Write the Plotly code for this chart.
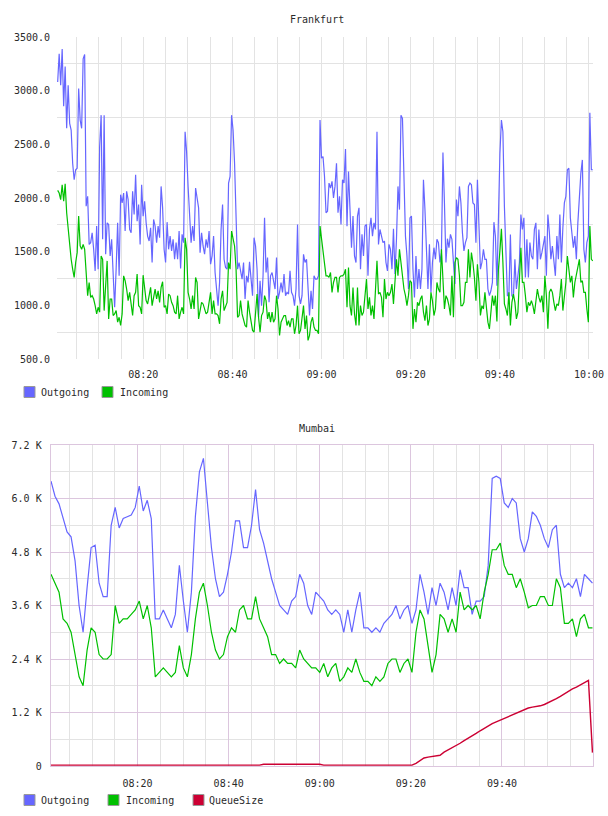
import plotly.graph_objects as go
import pandas as pd

# ---------------- data : Frankfurt ----------------
fra_start = "2024-01-01 08:00:47"
fra_end = "2024-01-01 10:00:52"

fra_outgoing = [
    3081,3343,3050,3389,2855,3226,2649,3050,2695,2633,
    2324,2170,2263,2278,3019,2726,2649,3297,3337,1923,
    2016,1568,1584,1676,1522,1321,1738,1337,2479,2772,
    1615,2772,1476,1769,1753,1460,1615,1213,982,1337,
    1769,1275,2031,1954,2046,1692,2062,1985,1707,1676,
    2062,1846,2216,1784,1939,1568,2124,1831,1970,1769,
    1645,1599,1723,1399,1800,1738,1584,1738,1630,2108,
    1908,1522,1399,1775,1522,1645,1507,1615,1429,1584,
    1429,1692,1343,1661,1584,2618,2432,2108,1831,1584,
    1738,1599,2093,1985,1908,1491,1676,1553,1476,1615,
    1537,1692,1383,1460,1645,1306,1183,997,1213,1707,
    1939,1429,1352,1337,2139,2201,2772,2633,2324,1923,
    1337,1399,1337,1244,1399,1059,1275,1213,1405,1213,
    1090,1630,1553,1337,889,1229,997,1275,1815,1306,
    1445,1028,1275,1306,1213,1152,1445,1059,1121,1213,
    1121,1291,1090,1121,1105,1321,1121,1090,997,1152,
    1753,1090,1013,1090,1476,1399,1429,1213,905,1136,
    966,1275,1244,1244,1275,2726,2371,2386,2201,1862,
    1877,2139,2093,2155,2000,2108,2324,1862,2016,1753,
    2170,2139,2457,1738,2247,1892,1537,1831,1460,1399,
    1831,1908,1337,1661,1460,1738,1753,1275,1707,1815,
    1645,1769,1707,2618,1568,1707,1645,1584,1599,1399,
    1321,1568,1522,1337,1713,1291,1615,2108,1892,2772,
    2741,2108,1645,1460,1152,1815,1831,1337,1074,1460,
    1152,1337,1152,1337,2170,1892,1460,1152,1568,1121,
    1399,1537,1429,1615,1584,1399,1491,2423,1954,1399,
    1621,1537,1661,1615,1399,1198,1985,1831,2108,1954,
    1676,1507,1584,1630,2108,2139,2124,1954,
    1939,1584,2170,1831,1337,1399,1522,1429,1429,
    1152,1090,1136,1213,1775,1645,1183,1831,2417,
    2726,2618,1923,1399,1090,1090,1661,1090,1074,
    1429,1152,1275,1399,1846,1707,1815,1260,1615,
    1260,1584,1460,1429,1707,1769,1337,1707,1429,
    1491,1553,1645,1275,1846,1676,1429,1553,1429,
    1275,1645,1429,1846,1399,1723,1954,2016,2263,
    2278,1815,1676,1537,1645,1429,1769,2016,2232,
    2355,1522,1399,1584,1645,2794,2263,2263,
]

fra_incoming = [
    2071,2046,1985,2124,1970,2133,1862,1707,1584,1429,
    1337,1260,1399,1491,1831,1553,1522,1568,1522,1275,
    1090,1213,1074,1090,1059,997,920,982,936,1460,
    1429,951,1229,1414,874,1059,1059,905,920,951,
    843,889,812,920,1275,1229,1152,1044,1121,997,
    905,1090,1121,1291,997,982,920,1281,1152,1044,
    1013,1090,1167,997,1090,1152,1059,1136,1028,1167,
    1220,982,997,920,1105,1090,1028,997,936,920,
    1090,874,936,982,920,1630,1522,1121,1059,966,
    1090,966,1260,1213,874,966,1028,1013,951,920,
    936,1059,1121,920,1044,920,920,905,828,1059,
    1136,951,997,1028,1399,1337,1692,1630,1553,1337,
    889,905,1044,920,858,812,797,1044,936,828,
    766,750,982,1105,889,750,905,936,1090,1044,
    874,936,843,936,843,874,1090,966,719,843,
    874,905,905,812,858,797,874,874,735,812,
    997,735,766,905,997,781,905,673,719,843,
    889,797,766,766,735,1738,1630,1522,1399,1275,
    1275,1260,1306,1121,1213,1260,1260,1121,1260,1275,
    1275,1291,1337,982,1352,997,905,1167,920,812,
    1167,812,997,905,936,1090,1244,966,1074,905,
    997,874,1090,1414,1105,1121,1074,889,1244,1059,
    1121,1090,1121,1198,1013,1260,1429,1275,1522,1399,
    1244,1152,1090,997,1090,1229,1213,781,966,843,
    1028,997,1059,1090,936,858,997,812,874,1121,
    1044,905,966,1213,1152,1121,1522,1229,966,1090,
    1059,997,905,1275,889,1399,1445,1429,1275,997,
    997,1028,1213,1213,1522,1260,1491,1399,
    1260,1044,1383,1213,905,997,966,1121,966,
    843,781,966,1090,997,1090,849,1337,1507,
    1713,1399,1013,966,905,1121,812,1028,1105,
    1028,874,936,1183,1537,1213,1213,1090,936,
    1028,997,1044,997,920,1028,1152,1074,1028,
    1090,936,1275,1090,781,1121,1152,1121,1028,
    951,1013,997,1090,1244,951,1090,1213,1460,
    1337,1213,1275,1074,1213,1275,1337,1429,1213,
    1229,1121,1121,966,843,1738,1429,1414,
]

# ---------------- data : Mumbai ----------------
mum_start = "2024-01-01 08:01:00"
mum_end = "2024-01-01 09:59:52"

mum_outgoing = [
    6390,6050,5880,5550,5250,5140,4600,3600,3000,4000,
    4900,4950,4100,3800,3800,5400,5800,5340,5550,5590,
    5630,5800,6280,5720,5960,5550,3300,3300,3500,3300,
    3100,3400,4500,3700,3000,3900,5600,6600,6900,5900,
    4900,4200,3800,3900,4300,4800,5500,5500,4900,4900,
    5400,6200,5300,5000,4600,4200,3900,3600,3500,3400,
    3700,3800,4300,4100,3600,3400,3900,3800,3700,3500,
    3400,3500,3400,3000,3500,3000,3500,3900,3100,3100,
    3000,3100,3000,3200,3300,3400,3600,3300,3500,3600,
    3200,3500,4300,3900,3400,4000,3600,4100,3900,3500,
    4000,3600,4400,4000,4000,3400,3700,3700,3800,4500,
    6450,6500,6450,5900,5800,6000,5900,5100,4800,5100,
    5700,5600,5400,5100,4900,5300,5400,4300,4000,4100,
    4000,4200,3800,4300,4200,4100,
]

mum_incoming = [
    4300,4100,3900,3300,3200,3000,2500,2000,1800,2600,
    3100,3000,2500,2400,2400,2500,3600,3200,3300,3300,
    3400,3500,3700,3300,3600,3100,2000,2100,2200,2100,
    2000,2100,2700,2200,2000,2500,3300,3900,4100,3600,
    3000,2600,2400,2500,2900,3100,3000,3500,3600,3300,
    3300,3800,3300,3100,2900,2500,2500,2300,2400,2300,
    2300,2200,2600,2400,2300,2200,2200,2100,2300,2000,
    2200,2300,1900,2000,2200,2100,2400,2100,1900,1900,
    1800,2000,1900,2000,2300,2400,2400,2100,2300,2400,
    2100,3000,3500,3300,2700,2100,2500,3400,3300,3000,
    3300,3000,3900,3500,3600,3500,3600,3300,3900,4300,
    4850,4850,5000,4500,4300,4300,4000,4200,3900,3550,
    3600,3600,3800,3800,3600,3600,4200,4000,3200,3200,
    3300,2900,3300,3400,3100,3100,
]

mum_queue = [
    20,20,20,20,20,20,20,20,20,20,
    20,20,20,20,20,20,20,20,20,20,
    20,20,20,20,20,20,20,20,20,20,
    20,20,20,20,20,20,20,20,20,20,
    20,20,20,20,20,20,20,20,20,20,
    20,20,20,40,40,40,40,40,40,40,
    40,40,40,40,40,40,40,40,20,20,
    20,20,20,20,20,20,20,20,20,20,
    20,20,20,20,20,20,20,20,20,20,
    20,60,120,180,200,210,220,240,310,360,
    410,450,510,570,620,680,730,790,850,900,
    950,990,1030,1070,1110,1150,1190,1230,1270,1300,
    1320,1330,1350,1380,1420,1460,1510,1560,1620,1680,
    1730,1770,1820,1860,1920,300,
]

fra_yticks = [500, 1000, 1500, 2000, 2500, 3000, 3500]
fra_ygrid = [750, 1250, 1750, 2250, 2750, 3250]
mum_yticks = [0, 1200, 2400, 3600, 4800, 6000, 7200]
mum_yticktext = ["0", "1.2 K", "2.4 K", "3.6 K", "4.8 K", "6.0 K", "7.2 K"]
mum_ygrid = [600, 1800, 3000, 4200, 5400, 6600]

series_names = ["Outgoing", "Incoming", "QueueSize"]
series_colors = ["#6666ff", "#00c000", "#cc0033"]

# ---------------- figure ----------------
W, H = 608, 816
def fx(p):
    return p / W
def fy(p):
    return 1 - p / H

FONT = "DejaVu Sans Mono"
TXT = "#2a2a2a"
GRAY = "#e3e3e3"
PURPLE = "#dcc6de"

fra_t = pd.date_range(fra_start, fra_end, periods=len(fra_outgoing))
mum_t = pd.date_range(mum_start, mum_end, periods=len(mum_outgoing))

fig = go.Figure()
fig.add_trace(go.Scatter(x=fra_t, y=fra_outgoing, mode="lines", name=series_names[0],
                         line=dict(color=series_colors[0], width=1.2), xaxis="x", yaxis="y"))
fig.add_trace(go.Scatter(x=fra_t, y=fra_incoming, mode="lines", name=series_names[1],
                         line=dict(color=series_colors[1], width=1.2), xaxis="x", yaxis="y"))
fig.add_trace(go.Scatter(x=mum_t, y=mum_outgoing, mode="lines", name=series_names[0],
                         line=dict(color=series_colors[0], width=1.2), xaxis="x2", yaxis="y2"))
fig.add_trace(go.Scatter(x=mum_t, y=mum_incoming, mode="lines", name=series_names[1],
                         line=dict(color=series_colors[1], width=1.2), xaxis="x2", yaxis="y2"))
fig.add_trace(go.Scatter(x=mum_t, y=mum_queue, mode="lines", name=series_names[2],
                         line=dict(color=series_colors[2], width=1.4), xaxis="x2", yaxis="y2"))

tickfont = dict(family=FONT, size=10, color=TXT)

fig.update_layout(
    width=W, height=H,
    margin=dict(l=0, r=0, t=0, b=0, autoexpand=False),
    paper_bgcolor="white", plot_bgcolor="white",
    showlegend=False,
    xaxis=dict(
        domain=[fx(57), fx(593)], anchor="y", type="date", automargin=False,
        range=["2024-01-01 08:00:38", "2024-01-01 10:00:54"],
        tick0="2024-01-01 08:00", dtick=20 * 60 * 1000, tickformat="%H:%M",
        showgrid=True, gridcolor=GRAY, gridwidth=1,
        minor=dict(tick0="2024-01-01 08:00", dtick=5 * 60 * 1000, showgrid=True, gridcolor=GRAY, gridwidth=1),
        zeroline=False, showline=False, ticks="", tickfont=tickfont, ticklabelstandoff=8,
    ),
    yaxis=dict(
        domain=[fy(359), fy(37)], anchor="x", automargin=False,
        range=[500, 3500], tickmode="array", tickvals=fra_yticks, tickformat=".1f",
        showgrid=False,
        minor=dict(tickmode="array", tickvals=fra_ygrid, showgrid=True, gridcolor=GRAY, gridwidth=1),
        zeroline=False, showline=False, ticks="", tickfont=tickfont, ticklabelstandoff=6,
    ),
    xaxis2=dict(
        domain=[fx(50.7), fx(593)], anchor="y2", type="date", automargin=False,
        range=["2024-01-01 08:00:56", "2024-01-01 09:59:59"],
        tick0="2024-01-01 08:00", dtick=20 * 60 * 1000, tickformat="%H:%M",
        showgrid=True, gridcolor=PURPLE, gridwidth=1,
        minor=dict(tick0="2024-01-01 08:00", dtick=5 * 60 * 1000, showgrid=True, gridcolor=GRAY, gridwidth=1),
        zeroline=False, showline=True, mirror=True, linecolor=PURPLE, linewidth=1,
        ticks="", tickfont=tickfont, ticklabelstandoff=8,
    ),
    yaxis2=dict(
        domain=[fy(766), fy(445)], anchor="x2", automargin=False,
        range=[0, 7200], tickmode="array", tickvals=mum_yticks, ticktext=mum_yticktext,
        showgrid=True, gridcolor=PURPLE, gridwidth=1,
        minor=dict(tickmode="array", tickvals=mum_ygrid, showgrid=True, gridcolor=GRAY, gridwidth=1),
        zeroline=False, showline=True, mirror=True, linecolor=PURPLE, linewidth=1,
        ticks="", tickfont=tickfont, ticklabelstandoff=6,
    ),
)

# titles
annotations = [
    dict(text="Frankfurt", x=fx(317), y=fy(19), xref="paper", yref="paper",
         showarrow=False, xanchor="center", yanchor="middle", font=dict(family=FONT, size=10, color=TXT)),
    dict(text="Mumbai", x=fx(317), y=fy(428), xref="paper", yref="paper",
         showarrow=False, xanchor="center", yanchor="middle", font=dict(family=FONT, size=10, color=TXT)),
]
shapes = []

# legends (square swatch + label)
legend_rows = [
    (392, [(24, 39, 0), (102, 118, 1)]),
    (800, [(24, 39, 0), (108, 124, 1), (193, 207, 2)]),
]
for yc, items in legend_rows:
    for sx, tx, si in items:
        shapes.append(dict(type="rect", xref="paper", yref="paper",
                           x0=fx(sx), x1=fx(sx + 11), y0=fy(yc + 5.5), y1=fy(yc - 5.5),
                           fillcolor=series_colors[si], line=dict(color="#999999", width=1)))
        annotations.append(dict(text=series_names[si], x=fx(tx), y=fy(yc), xref="paper", yref="paper",
                                showarrow=False, xanchor="left", yanchor="middle",
                                font=dict(family=FONT, size=10, color=TXT)))

fig.update_layout(annotations=annotations, shapes=shapes)
fig.write_html("out.html")
